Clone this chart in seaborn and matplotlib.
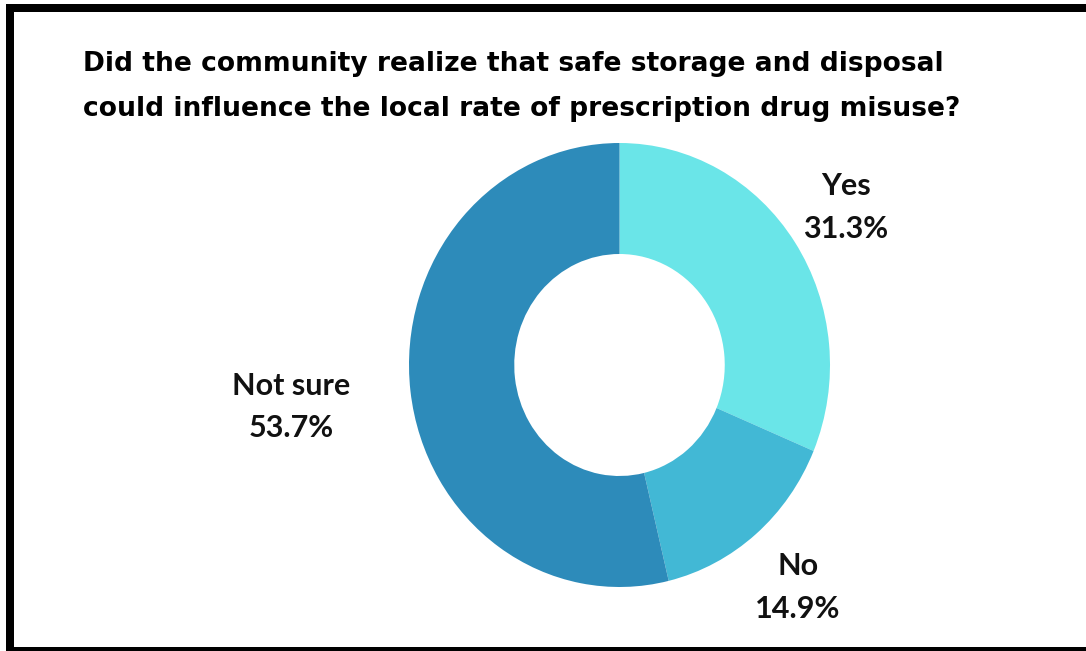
import matplotlib
matplotlib.use("Agg")
import matplotlib.pyplot as plt
import seaborn as sns
import numpy as np
from matplotlib.patches import Rectangle

categories = ["Yes", "No", "Not sure"]
values = [31.3, 14.9, 53.7]
pct_labels = ["31.3%", "14.9%", "53.7%"]
colors = ["#6AE5E8", "#42B8D5", "#2D8BBA"]
label_dist = [1.29, 1.31, 1.57]
title = ("Did the community realize that safe storage and disposal\n"
         "could influence the local rate of prescription drug misuse?")

sns.set_theme(style="white")
plt.rcParams['font.family'] = ['Lato', 'DejaVu Sans']

W, H = 1086, 651
fig = plt.figure(figsize=(W / 100, H / 100), dpi=100)
fig.patch.set_facecolor("white")

# pixel geometry of the donut
cx, cy_top = 619.5, 365.0
rx, ry = 210.5, 222.0
cy = H - cy_top

ax = fig.add_axes([0, 0, 1, 1])
wedges, _ = ax.pie(values, colors=colors, startangle=90, counterclock=False,
                   radius=1.0, wedgeprops=dict(width=0.5, linewidth=0))
ax.set_aspect('auto')
ax.set_xlim(-cx / rx, (W - cx) / rx)
ax.set_ylim(-cy / ry, (H - cy) / ry)
ax.axis('off')

for w, cat, pct, d in zip(wedges, categories, pct_labels, label_dist):
    ang = np.deg2rad((w.theta1 + w.theta2) / 2)
    ax.text(d * np.cos(ang), d * np.sin(ang) - 0.005, f"{cat}\n{pct}",
            ha='center', va='center', fontsize=22, fontweight='bold',
            linespacing=1.63, color='#111111')

fig.text(83 / W, 1 - 51 / H, title, ha='left', va='top',
         fontsize=19.05, fontweight='bold', family=['DejaVu Sans'],
         linespacing=1.95, color='black')

# frame bands
def band(x0, y0, x1, y1):
    fig.patches.append(Rectangle((x0 / W, 1 - y1 / H), (x1 - x0) / W, (y1 - y0) / H,
                                 transform=fig.transFigure, facecolor='black',
                                 edgecolor='none', zorder=10))

band(6, 4, W, 12)
band(6, 4, 14, H)
band(6, 647, W, H)

fig.savefig("out.png", dpi=100, facecolor="white")
